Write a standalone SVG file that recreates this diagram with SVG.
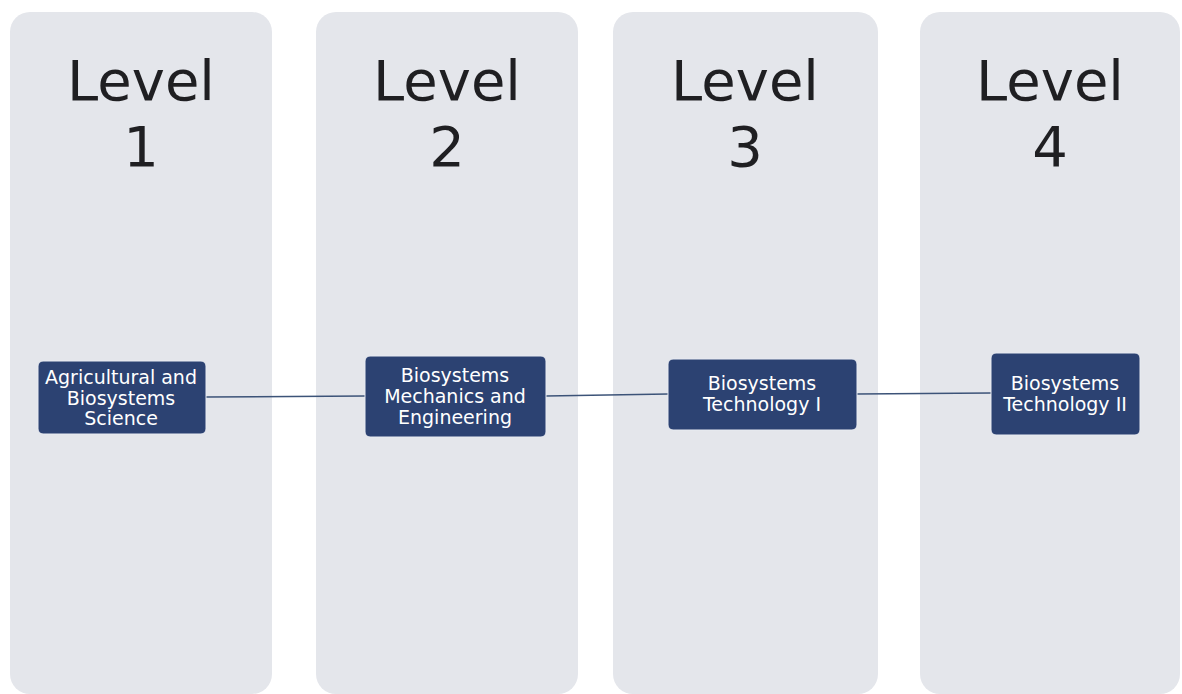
<svg xmlns="http://www.w3.org/2000/svg" width="1182" height="694" viewBox="0 0 1182 694">
  <style>
    .col { fill: #e4e6eb; }
    .level { font-family: "DejaVu Sans", Verdana, sans-serif; font-size: 56px; fill: #1f1f22; text-anchor: middle; }
    .box { fill: #2c4272; stroke: #e8ebf2; stroke-width: 1; }
    .lbl { font-family: "DejaVu Sans", Verdana, sans-serif; font-size: 19px; fill: #ffffff; text-anchor: middle; }
    .link { stroke: #3c5378; stroke-width: 1.5; fill: none; }
  </style>
  <rect width="1182" height="694" fill="#ffffff"/>

  <!-- level columns -->
  <g id="level1">
    <rect class="col" x="10" y="12" width="262" height="682" rx="20"/>
    <text class="level" x="141" y="100">Level</text>
    <text class="level" x="141" y="166">1</text>
  </g>
  <g id="level2">
    <rect class="col" x="316" y="12" width="262" height="682" rx="20"/>
    <text class="level" x="447" y="100">Level</text>
    <text class="level" x="447" y="166">2</text>
  </g>
  <g id="level3">
    <rect class="col" x="613" y="12" width="265" height="682" rx="20"/>
    <text class="level" x="745" y="100">Level</text>
    <text class="level" x="745" y="166">3</text>
  </g>
  <g id="level4">
    <rect class="col" x="920" y="12" width="260" height="682" rx="20"/>
    <text class="level" x="1050" y="100">Level</text>
    <text class="level" x="1050" y="166">4</text>
  </g>

  <!-- connectors between courses -->
  <g id="connectors">
    <line class="link" x1="206" y1="397" x2="365" y2="396"/>
    <line class="link" x1="546" y1="396" x2="668" y2="394"/>
    <line class="link" x1="857" y1="394" x2="991" y2="393"/>
  </g>

  <!-- course nodes -->
  <g id="course1">
    <rect class="box" x="38" y="361" width="168" height="73" rx="5"/>
    <text class="lbl" x="121" y="384">Agricultural and</text>
    <text class="lbl" x="121" y="405">Biosystems</text>
    <text class="lbl" x="121" y="425">Science</text>
  </g>
  <g id="course2">
    <rect class="box" x="365" y="356" width="181" height="81" rx="5"/>
    <text class="lbl" x="455" y="382">Biosystems</text>
    <text class="lbl" x="455" y="403">Mechanics and</text>
    <text class="lbl" x="455" y="424">Engineering</text>
  </g>
  <g id="course3">
    <rect class="box" x="668" y="359" width="189" height="71" rx="5"/>
    <text class="lbl" x="762" y="390">Biosystems</text>
    <text class="lbl" x="762" y="411">Technology I</text>
  </g>
  <g id="course4">
    <rect class="box" x="991" y="353" width="149" height="82" rx="5"/>
    <text class="lbl" x="1065" y="390">Biosystems</text>
    <text class="lbl" x="1065" y="411">Technology II</text>
  </g>
</svg>
